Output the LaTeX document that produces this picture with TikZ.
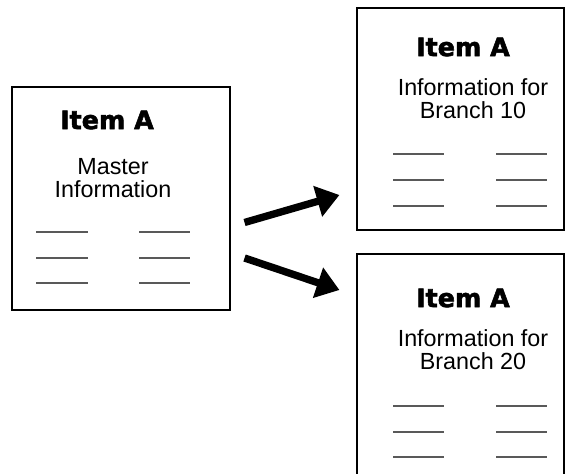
\documentclass[tikz,border=0pt]{standalone}
\usepackage{fontspec}
\setmainfont{Liberation Sans}
\newfontfamily\headfont{DejaVu Sans}[FakeBold=2.2]
\usetikzlibrary{arrows.meta, positioning}

\begin{document}
\begin{tikzpicture}[x=0.75pt, y=-0.75pt]
    \tikzstyle{sheet} = [rectangle, draw, line width=0.8pt, minimum width=155.25pt, minimum height=166.5pt, inner sep=0pt]
    \tikzstyle{heading} = [font=\headfont\bfseries\fontsize{19}{19}\selectfont, inner sep=0pt]
    \tikzstyle{info} = [align=center, font=\fontsize{17.5}{17.25}\selectfont, inner sep=0pt]
    \tikzstyle{blank} = [draw, black!65, line width=1pt]
    \tikzstyle{bigarrow} = [draw, -{Triangle[length=17pt, width=23pt]}, line width=5.5pt]

    \useasboundingbox (0,0) rectangle (565,474);
    \clip (0,0) rectangle (565,474);

    \node [sheet, minimum width=163.5pt, minimum height=167.25pt] (master) at (121,198.5) {};
    \node [sheet] (branch10) at (460.5,119) {};
    \node [sheet] (branch20) at (460.5,365) {};

    \node [heading] (mhead) at (107,120) {Item A};
    \node [heading] (head10) at (463,47) {Item A};
    \node [heading] (head20) at (463,298) {Item A};

    \node [info] (minfo) at (113,178.5) {Master\\Information};
    \node [info] (info10) at (473,99) {Information for\\Branch 10};
    \node [info] (info20) at (473,350) {Information for\\Branch 20};

    % blank lines on the sheets
    \foreach \y in {232,258,283} {
        \draw [blank] (36,\y) -- (88,\y);
        \draw [blank] (139,\y) -- (190,\y);
    }
    \foreach \y in {154,180,206,406,432,457} {
        \draw [blank] (393,\y) -- (444,\y);
        \draw [blank] (496,\y) -- (547,\y);
    }

    \path (master.east) ++(14,24) coordinate (out10);
    \path (master.east) ++(14,59.5) coordinate (out20);
    \path (branch10.west) ++(-17,76) coordinate (in10);
    \path (branch20.west) ++(-17,-75) coordinate (in20);

    \path [bigarrow] (out10) -- (in10);
    \path [bigarrow] (out20) -- (in20);
\end{tikzpicture}
\end{document}
